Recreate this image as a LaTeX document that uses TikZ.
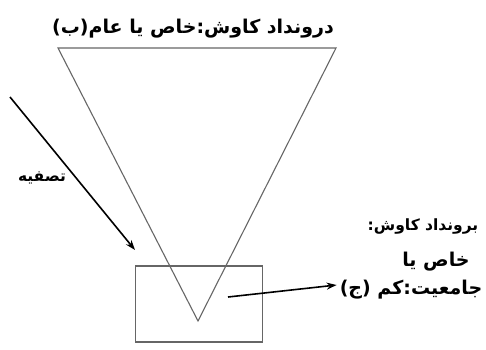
\documentclass[tikz,border=0pt]{standalone}
\usepackage{fontspec}
\newfontfamily\farsi[Script=Arabic]{DejaVu Sans}
\TeXXeTstate=1
\usetikzlibrary{arrows.meta,positioning,calc}

\begin{document}
\begin{tikzpicture}[x=1pt,y=-1pt,>={Stealth[length=10pt,width=7pt]},
    lbl/.style={font=\farsi\bfseries\fontsize{19}{22}\selectfont,inner sep=0pt},
    small/.style={lbl,font=\farsi\bfseries\fontsize{15.5}{18}\selectfont},
    edge/.style={draw=black!60,line width=1.1pt},
    pointer/.style={->,line width=1.6pt}]
    \useasboundingbox (0,0) rectangle (486,349);
    % funnel
    \coordinate (tl) at (58,48);
    \coordinate (tr) at (336,48);
    \coordinate (apex) at (198,321);
    \draw[edge] (tl) -- (tr) -- (apex) -- cycle;
    \node[edge,minimum width=127pt,minimum height=76pt,inner sep=0pt] (box) at (199,304) {};
    % labels
    \node[lbl] (input) at (193,29) {\beginR درونداد کاوش:خاص یا عام(ب)\endR};
    \node[small] (filter) at (42,178) {\beginR تصفیه\endR};
    \node[small] (out1) at (423,226) {\beginR برونداد کاوش:\endR};
    \node[lbl] (out2) at (436,262) {\beginR خاص یا\endR};
    \node[lbl] (out3) at (411,290) {\beginR جامعیت:کم (ج)\endR};
    % arrows
    \coordinate (start) at (10,97);
    \coordinate (tip) at (135,250);
    \draw[pointer] (start) -- (tip);
    \coordinate (from) at (228,297);
    \draw[pointer] (from) -- ([xshift=-3pt,yshift=5pt]out3.west);
\end{tikzpicture}
\end{document}
